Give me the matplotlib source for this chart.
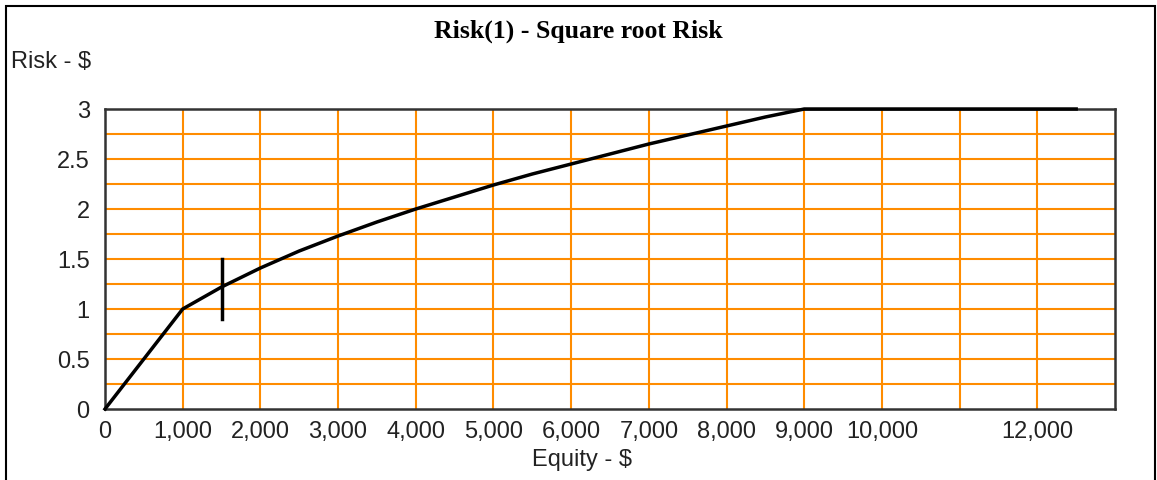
import matplotlib.pyplot as plt
from matplotlib.patches import Rectangle

# values
equity = [0, 1000, 1500, 2000, 2500, 3000, 3500, 4000, 4500, 5000, 5500, 6000,
          6500, 7000, 7500, 8000, 8500, 9000, 10000, 11000, 12000, 12500]
risk = [0, 1.0, 1.22, 1.41, 1.58, 1.73, 1.87, 2.0, 2.12, 2.24, 2.35, 2.45,
        2.55, 2.65, 2.74, 2.83, 2.92, 3.0, 3.0, 3.0, 3.0, 3.0]
marker_x = 1500
marker_y = [0.9, 1.5]
xticks = list(range(0, 13000, 1000))
xticklabels = ['0', '1,000', '2,000', '3,000', '4,000', '5,000', '6,000',
               '7,000', '8,000', '9,000', '10,000', '', '12,000']
yticks = [0, 0.5, 1, 1.5, 2, 2.5, 3]
yticklabels = ['0', '0.5', '1', '1.5', '2', '2.5', '3']
ygrid = [i * 0.25 for i in range(1, 12)]

plt.rcParams['font.family'] = ['Liberation Sans', 'DejaVu Sans']

W, H = 1157, 481
fig = plt.figure(figsize=(W / 100, H / 100), dpi=100)
ax = fig.add_axes([105 / W, 1 - 410 / H, 1010 / W, 300 / H])

orange = '#ff8c00'
for x in xticks[1:]:
    ax.axvline(x, color=orange, lw=1.5, zorder=1)
for y in ygrid:
    ax.axhline(y, color=orange, lw=1.5, zorder=1)

ax.plot(equity, risk, color='black', lw=2.5, zorder=3, clip_on=False)
ax.plot([marker_x, marker_x], marker_y, color='black', lw=2.5, zorder=3)

ax.set_xlim(0, 13000)
ax.set_ylim(0, 3)
ax.set_xticks(xticks)
ax.set_xticklabels(xticklabels)
ax.set_yticks(yticks)
ax.set_yticklabels(yticklabels)
ax.tick_params(length=0, labelsize=17, colors='#222222', pad=8)
ax.tick_params(axis='y', pad=11)
for s in ax.spines.values():
    s.set_color('#333333')
    s.set_linewidth(1.8)

fig.text(578 / W, 1 - 31 / H, 'Risk(1) - Square root Risk', ha='center', va='center',
         family='Liberation Serif', weight='bold', fontsize=18.5)
fig.text(11 / W, 1 - 62 / H, 'Risk - $', ha='left', va='center', fontsize=17, color='#222222')
fig.text(582 / W, 1 - 460 / H, 'Equity - $', ha='center', va='center', fontsize=17, color='#222222')

fig.patches.append(Rectangle((6 / W, -0.1), 1149 / W, 1.1 - 7 / H, transform=fig.transFigure,
                             fill=False, edgecolor='black', lw=1.5))

fig.savefig('out.png', dpi=100)
